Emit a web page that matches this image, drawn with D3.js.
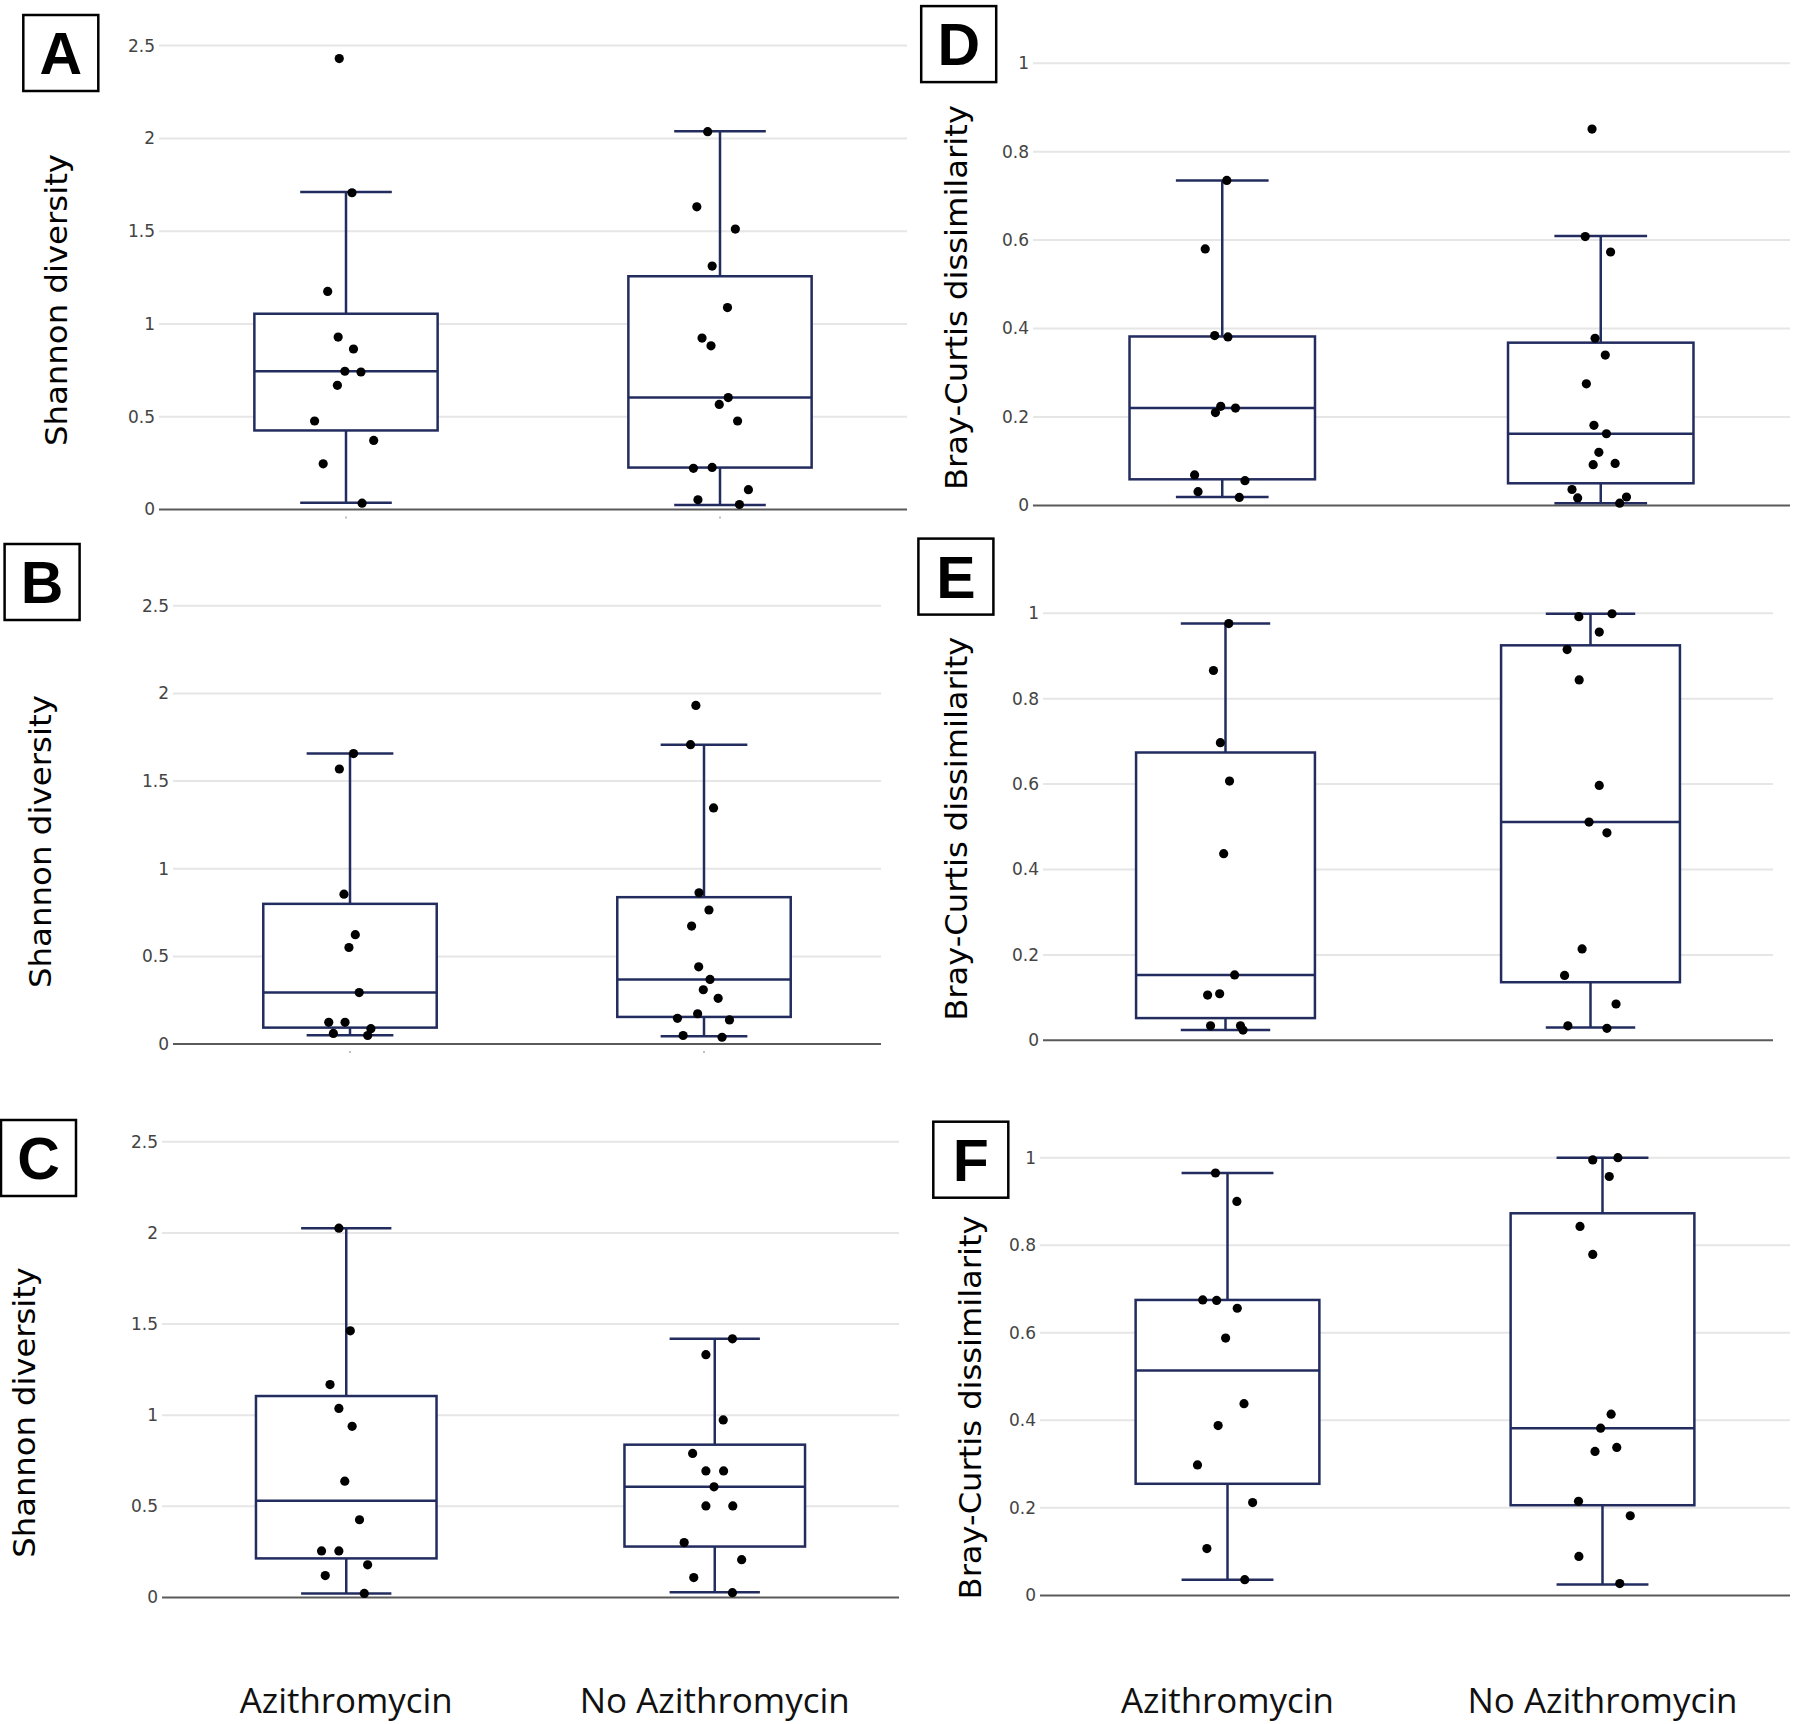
<!DOCTYPE html>
<html>
<head>
<meta charset="utf-8">
<script src="https://cdn.jsdelivr.net/npm/d3@7/dist/d3.min.js"></script>
<style>
  html, body { margin: 0; padding: 0; background: #fff; }
  svg { display: block; }
</style>
</head>
<body>
<script>
// ---------------- DATA ----------------
const categories = ["Azithromycin", "No Azithromycin"];
const shannonTicks = [0, 0.5, 1, 1.5, 2, 2.5];
const brayTicks = [0, 0.2, 0.4, 0.6, 0.8, 1];
const shannonTitle = "Shannon diversity";
const brayTitle = "Bray-Curtis dissimilarity";

// box statistics per group: [lower whisker, Q1, median, Q3, upper whisker]
const statsA = [[0.036, 0.426, 0.745, 1.055, 1.711], [0.024, 0.226, 0.603, 1.257, 2.039]];
const statsB = [[0.051, 0.094, 0.294, 0.800, 1.657], [0.045, 0.155, 0.369, 0.838, 1.708]];
const statsC = [[0.022, 0.214, 0.531, 1.105, 2.026], [0.028, 0.279, 0.607, 0.838, 1.419]];
const statsD = [[0.019, 0.059, 0.220, 0.382, 0.735], [0.005, 0.050, 0.162, 0.368, 0.609]];
const statsE = [[0.024, 0.052, 0.153, 0.674, 0.976], [0.030, 0.136, 0.511, 0.925, 0.999]];
const statsF = [[0.036, 0.255, 0.514, 0.675, 0.965], [0.025, 0.206, 0.382, 0.873, 1.000]];

// individual sample values per group
const pointsA = [
  [2.43, 1.707, 1.175, 0.929, 0.865, 0.745, 0.741, 0.669, 0.477, 0.372, 0.246, 0.034],
  [2.036, 1.631, 1.511, 1.312, 1.088, 0.924, 0.882, 0.603, 0.566, 0.477, 0.222, 0.227, 0.107, 0.052, 0.027]
];
const pointsB = [
  [1.657, 1.569, 0.855, 0.624, 0.551, 0.294, 0.124, 0.124, 0.088, 0.061, 0.049],
  [1.932, 1.708, 1.347, 0.863, 0.765, 0.673, 0.441, 0.369, 0.310, 0.261, 0.147, 0.173, 0.138, 0.049, 0.039]
];
const pointsC = [
  [2.026, 1.463, 1.168, 1.037, 0.939, 0.638, 0.426, 0.255, 0.255, 0.179, 0.120, 0.022],
  [1.419, 1.332, 0.974, 0.790, 0.694, 0.694, 0.607, 0.502, 0.502, 0.301, 0.207, 0.109, 0.026]
];
const pointsD = [
  [0.735, 0.580, 0.384, 0.381, 0.224, 0.210, 0.220, 0.069, 0.056, 0.031, 0.018],
  [0.851, 0.608, 0.573, 0.378, 0.340, 0.275, 0.181, 0.162, 0.120, 0.092, 0.095, 0.036, 0.017, 0.019, 0.005]
];
const pointsE = [
  [0.976, 0.866, 0.697, 0.607, 0.437, 0.153, 0.106, 0.109, 0.034, 0.034, 0.024],
  [0.992, 0.999, 0.956, 0.915, 0.844, 0.597, 0.511, 0.486, 0.214, 0.152, 0.085, 0.034, 0.028]
];
const pointsF = [
  [0.965, 0.900, 0.675, 0.674, 0.656, 0.588, 0.438, 0.388, 0.298, 0.212, 0.107, 0.036],
  [0.995, 1.000, 0.957, 0.843, 0.779, 0.414, 0.382, 0.329, 0.338, 0.215, 0.182, 0.089, 0.027]
];

// horizontal jitter of each sample, as a fraction of the category band
const jitterA = [
  [-0.018, 0.016, -0.049, -0.021, 0.020, -0.003, 0.040, -0.023, -0.084, 0.074, -0.061, 0.043],
  [-0.033, -0.062, 0.041, -0.021, 0.020, -0.048, -0.024, 0.022, -0.002, 0.047, -0.071, -0.021, 0.076, -0.059, 0.052]
];
const jitterB = [
  [0.010, -0.030, -0.017, 0.015, -0.003, 0.026, -0.060, -0.014, 0.059, -0.047, 0.050],
  [-0.023, -0.038, 0.027, -0.014, 0.014, -0.035, -0.015, 0.017, -0.002, 0.040, -0.075, -0.018, 0.072, -0.059, 0.051]
];
const jitterC = [
  [-0.020, 0.011, -0.044, -0.020, 0.016, -0.004, 0.036, -0.067, -0.020, 0.058, -0.057, 0.049],
  [0.048, -0.024, 0.023, -0.060, -0.024, 0.024, -0.002, -0.024, 0.049, -0.083, 0.073, -0.057, 0.048]
];
const jitterD = [
  [0.012, -0.045, -0.020, 0.015, -0.004, -0.018, 0.035, -0.073, 0.060, -0.064, 0.045],
  [-0.023, -0.041, 0.026, -0.015, 0.012, -0.038, -0.018, 0.015, -0.005, -0.020, 0.038, -0.076, -0.061, 0.068, 0.050]
];
const jitterE = [
  [0.009, -0.033, -0.014, 0.011, -0.005, 0.025, -0.049, -0.016, -0.041, 0.041, 0.048],
  [-0.032, 0.059, 0.024, -0.064, -0.031, 0.024, -0.004, 0.045, -0.023, -0.071, 0.070, -0.062, 0.045]
];
const jitterF = [
  [-0.032, 0.025, -0.066, -0.029, 0.026, -0.005, 0.044, -0.025, -0.080, 0.067, -0.055, 0.046],
  [-0.026, 0.041, 0.018, -0.060, -0.026, 0.023, -0.005, -0.020, 0.038, -0.064, 0.074, -0.063, 0.046]
];

// ---------------- LAYOUT ----------------
const W = 1800, H = 1724;
const BOX_COLOR = "#222c5e";

const panels = [
  { letter: "A", stats: statsA, points: pointsA, jitter: jitterA, ticks: shannonTicks, title: shannonTitle,
    xRange: [159, 907], yRange: [509.5, 45.6], box: [23.3, 15], titleC: [58.8, 300, 292], smallTicks: true, catLabels: false },
  { letter: "B", stats: statsB, points: pointsB, jitter: jitterB, ticks: shannonTicks, title: shannonTitle,
    xRange: [173, 881], yRange: [1044.1, 605.8], box: [4.6, 544], titleC: [43, 841.6, 293], smallTicks: true, catLabels: false },
  { letter: "C", stats: statsC, points: pointsC, jitter: jitterC, ticks: shannonTicks, title: shannonTitle,
    xRange: [162, 899], yRange: [1597.4, 1141.8], box: [1, 1120], titleC: [27.3, 1412.4, 290.5], smallTicks: false, catLabels: true },
  { letter: "D", stats: statsD, points: pointsD, jitter: jitterD, ticks: brayTicks, title: brayTitle,
    xRange: [1033, 1790], yRange: [505.4, 63.2], box: [921.2, 6.1], titleC: [958.8, 297.5, 385], smallTicks: false, catLabels: false },
  { letter: "E", stats: statsE, points: pointsE, jitter: jitterE, ticks: brayTicks, title: brayTitle,
    xRange: [1043, 1773], yRange: [1040.3, 613.3], box: [918.4, 538.6], titleC: [958.8, 828.7, 384], smallTicks: false, catLabels: false },
  { letter: "F", stats: statsF, points: pointsF, jitter: jitterF, ticks: brayTicks, title: brayTitle,
    xRange: [1040, 1790], yRange: [1595.4, 1157.7], box: [933.3, 1121.7], titleC: [973.2, 1407.4, 384], smallTicks: false, catLabels: true }
];

const svg = d3.select("body").append("svg")
  .attr("width", W).attr("height", H)
  .attr("viewBox", `0 0 ${W} ${H}`);
svg.append("rect").attr("width", W).attr("height", H).attr("fill", "#fff");

const fmt = d => (d === 0 ? "0" : String(d));

panels.forEach(p => {
  const g = svg.append("g").attr("class", "panel-" + p.letter);
  const x = d3.scaleBand().domain(categories).range(p.xRange).paddingInner(0).paddingOuter(0);
  const y = d3.scaleLinear().domain([0, p.ticks[p.ticks.length - 1]]).range(p.yRange);
  const bw = x.bandwidth();
  const boxW = bw * 0.49;
  const capW = boxW * 0.5;

  // gridlines
  g.append("g").selectAll("line").data(p.ticks.filter(t => t !== 0)).join("line")
    .attr("x1", p.xRange[0]).attr("x2", p.xRange[1])
    .attr("y1", d => y(d)).attr("y2", d => y(d))
    .attr("stroke", "#e6e6e6").attr("stroke-width", 2);

  // zero line
  g.append("line")
    .attr("x1", p.xRange[0]).attr("x2", p.xRange[1])
    .attr("y1", y(0)).attr("y2", y(0))
    .attr("stroke", "#5a5a5a").attr("stroke-width", 2);

  // y axis labels
  const axis = d3.axisLeft(y).tickValues(p.ticks).tickFormat(fmt).tickSize(0).tickPadding(4);
  const ag = g.append("g").attr("transform", `translate(${p.xRange[0]},0)`).call(axis);
  ag.select(".domain").remove();
  ag.selectAll("text")
    .attr("font-family", "'DejaVu Sans', Verdana, sans-serif")
    .attr("font-size", 17)
    .attr("fill", "#444");

  // small category ticks under the axis
  if (p.smallTicks) {
    g.append("g").selectAll("line").data(categories).join("line")
      .attr("x1", d => x(d) + bw / 2).attr("x2", d => x(d) + bw / 2)
      .attr("y1", y(0) + 7).attr("y2", y(0) + 9)
      .attr("stroke", "#aaa").attr("stroke-width", 1.5);
  }

  // boxes
  categories.forEach((cat, i) => {
    const [lo, q1, med, q3, hi] = p.stats[i];
    const cx = x(cat) + bw / 2;
    const bg = g.append("g");
    bg.append("line").attr("x1", cx).attr("x2", cx).attr("y1", y(hi)).attr("y2", y(q3))
      .attr("stroke", BOX_COLOR).attr("stroke-width", 2.5);
    bg.append("line").attr("x1", cx).attr("x2", cx).attr("y1", y(q1)).attr("y2", y(lo))
      .attr("stroke", BOX_COLOR).attr("stroke-width", 2.5);
    bg.append("line").attr("x1", cx - capW / 2).attr("x2", cx + capW / 2).attr("y1", y(hi)).attr("y2", y(hi))
      .attr("stroke", BOX_COLOR).attr("stroke-width", 2.5);
    bg.append("line").attr("x1", cx - capW / 2).attr("x2", cx + capW / 2).attr("y1", y(lo)).attr("y2", y(lo))
      .attr("stroke", BOX_COLOR).attr("stroke-width", 2.5);
    bg.append("rect").attr("x", cx - boxW / 2).attr("width", boxW)
      .attr("y", y(q3)).attr("height", y(q1) - y(q3))
      .attr("fill", "#fff").attr("stroke", BOX_COLOR).attr("stroke-width", 2.5);
    bg.append("line").attr("x1", cx - boxW / 2).attr("x2", cx + boxW / 2).attr("y1", y(med)).attr("y2", y(med))
      .attr("stroke", BOX_COLOR).attr("stroke-width", 2.5);

    // points
    bg.append("g").selectAll("circle").data(p.points[i].map((v, k) => ({ v, j: p.jitter[i][k] }))).join("circle")
      .attr("cx", d => cx + d.j * bw)
      .attr("cy", d => y(d.v))
      .attr("r", 4.6)
      .attr("fill", "#000");
  });

  // y title
  const [tcx, tcy, tlen] = p.titleC;
  g.append("text")
    .attr("transform", `translate(${tcx + 8},${tcy}) rotate(-90)`)
    .attr("text-anchor", "middle")
    .attr("font-family", "'DejaVu Sans', Verdana, sans-serif")
    .attr("font-size", 31)
    .attr("fill", "#000")
    .attr("textLength", tlen)
    .attr("lengthAdjust", "spacingAndGlyphs")
    .text(p.title);

  // panel letter box
  const [bx, by] = p.box;
  g.append("rect").attr("x", bx).attr("y", by).attr("width", 75).attr("height", 76)
    .attr("fill", "#fff").attr("stroke", "#000").attr("stroke-width", 2.5);
  g.append("text")
    .attr("x", bx + 37.5).attr("y", by + 38 + 21)
    .attr("text-anchor", "middle")
    .attr("font-family", "'Liberation Sans', Arial, sans-serif")
    .attr("font-weight", "bold")
    .attr("font-size", 59)
    .attr("fill", "#000")
    .text(p.letter);

  // category labels
  if (p.catLabels) {
    const lens = [213, 270];
    g.append("g").selectAll("text").data(categories).join("text")
      .attr("x", d => x(d) + bw / 2)
      .attr("y", 1713)
      .attr("text-anchor", "middle")
      .attr("font-family", "'Open Sans', 'Noto Sans', sans-serif")
      .attr("font-size", 34)
      .attr("fill", "#111")
      .attr("textLength", (d, i) => lens[i])
      .attr("lengthAdjust", "spacingAndGlyphs")
      .text(d => d);
  }
});
</script>
</body>
</html>
